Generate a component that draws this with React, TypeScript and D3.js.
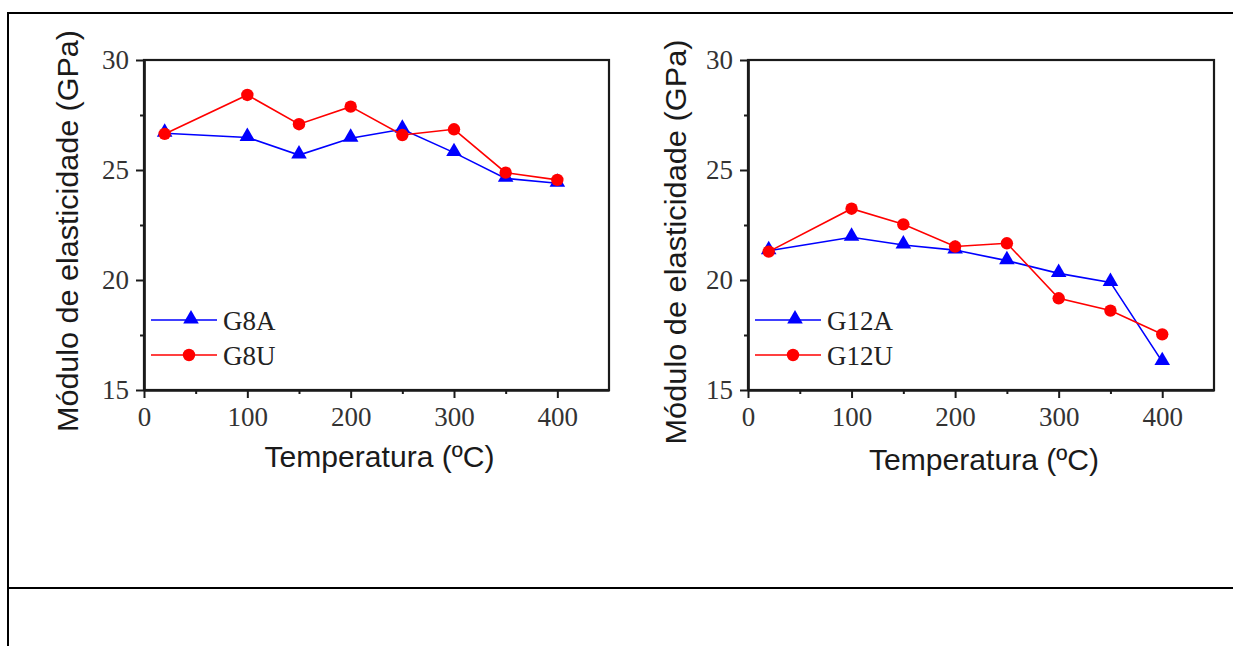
import * as d3 from "d3";
import React, { useRef, useEffect } from "react";

// temperatures (ºC) of the tests
const temperatures = [20, 100, 150, 200, 250, 300, 350, 400];

// módulo de elasticidade (GPa)
const g8a = [26.67, 26.48, 25.68, 26.44, 26.85, 25.79, 24.62, 24.4];
const g8u = [26.64, 28.41, 27.08, 27.88, 26.59, 26.85, 24.88, 24.55];
const g12a = [21.33, 21.94, 21.59, 21.36, 20.88, 20.3, 19.89, 16.29];
const g12u = [21.29, 23.24, 22.53, 21.52, 21.67, 19.17, 18.61, 17.53];

const xTicks = [0, 100, 200, 300, 400];
const xMinorTicks = [50, 150, 250, 350];
const yTicks = [15, 20, 25, 30];
const yMinorTicks = [17.5, 22.5, 27.5];

const xTitle = "Temperatura (ºC)";
const yTitle = "Módulo de elasticidade (GPa)";

const SERIF = "'Liberation Serif', 'Times New Roman', serif";
const SANS = "'Liberation Sans', Arial, sans-serif";

function Panel({ svgRef, left, right, aValues, uValues, aLabel, uLabel, yTitleX, yTitleY, yTitleLen, xTitleY }) {
  useEffect(() => {
    const top = 60, bottom = 390;
    const root = d3.select(svgRef.current).append("g");

    const x = d3.scaleLinear().domain([0, 450]).range([left, right]);
    const y = d3.scaleLinear().domain([15, 30]).range([bottom, top]);

    // frame
    root.append("rect")
      .attr("x", left).attr("y", top)
      .attr("width", right - left).attr("height", bottom - top)
      .attr("fill", "none").attr("stroke", "#1a1a1a").attr("stroke-width", 2.2);

    // x axis
    const gx = root.append("g").attr("transform", "translate(0," + bottom + ")");
    gx.call(d3.axisBottom(x).tickValues(xTicks).tickSize(8).tickSizeOuter(0).tickPadding(9).tickFormat(d3.format("d")));
    gx.append("g").call(d3.axisBottom(x).tickValues(xMinorTicks).tickSize(4).tickSizeOuter(0).tickFormat(() => ""));

    // y axis
    const gy = root.append("g").attr("transform", "translate(" + left + ",0)");
    gy.call(d3.axisLeft(y).tickValues(yTicks).tickSize(8).tickSizeOuter(0).tickPadding(7).tickFormat(d3.format("d")));
    gy.append("g").call(d3.axisLeft(y).tickValues(yMinorTicks).tickSize(4).tickSizeOuter(0).tickFormat(() => ""));

    root.selectAll(".domain").attr("stroke", "#1a1a1a").attr("stroke-width", 2.2);
    root.selectAll(".tick line").attr("stroke", "#1a1a1a").attr("stroke-width", 2);
    root.selectAll(".tick text")
      .attr("fill", "#333")
      .style("font-family", SERIF)
      .style("font-size", "27px");

    const line = d3.line().x((d) => x(d[0])).y((d) => y(d[1]));
    const tri = d3.symbol().type(d3.symbolTriangle).size(105);

    const drawSeries = (vals, color, marker) => {
      const pts = temperatures.map((t, i) => [t, vals[i]]);
      root.append("path").datum(pts)
        .attr("d", line).attr("fill", "none")
        .attr("stroke", color).attr("stroke-width", 1.6);
      if (marker === "tri") {
        root.selectAll(null).data(pts).enter().append("path")
          .attr("d", tri)
          .attr("transform", (d) => "translate(" + x(d[0]) + "," + (y(d[1]) - 1) + ")")
          .attr("fill", color);
      } else {
        root.selectAll(null).data(pts).enter().append("circle")
          .attr("cx", (d) => x(d[0])).attr("cy", (d) => y(d[1]))
          .attr("r", 6.2).attr("fill", color);
      }
    };
    drawSeries(aValues, "#0000ff", "tri");
    drawSeries(uValues, "#ff0000", "circle");

    // legend
    const lx = left + 7;
    const items = [
      { label: aLabel, color: "#0000ff", marker: "tri", yy: 320 },
      { label: uLabel, color: "#ff0000", marker: "circle", yy: 355 },
    ];
    items.forEach((it) => {
      const g = root.append("g");
      g.append("line").attr("x1", lx).attr("x2", lx + 66)
        .attr("y1", it.yy).attr("y2", it.yy)
        .attr("stroke", it.color).attr("stroke-width", 1.6);
      if (it.marker === "tri") {
        g.append("path").attr("d", tri)
          .attr("transform", "translate(" + (lx + 40) + "," + (it.yy - 1) + ")")
          .attr("fill", it.color);
      } else {
        g.append("circle").attr("cx", lx + 38).attr("cy", it.yy).attr("r", 6.2).attr("fill", it.color);
      }
      g.append("text").attr("x", lx + 72).attr("y", it.yy + 10)
        .attr("fill", "#222")
        .style("font-family", SERIF).style("font-size", "27px")
        .text(it.label);
    });

    // axis titles
    root.append("text")
      .attr("x", (left + right) / 2 + 3).attr("y", xTitleY)
      .attr("text-anchor", "middle")
      .attr("textLength", 230).attr("lengthAdjust", "spacingAndGlyphs")
      .attr("fill", "#1a1a1a")
      .style("font-family", SANS).style("font-size", "30px")
      .text(xTitle);
    root.append("text")
      .attr("transform", "translate(" + yTitleX + "," + yTitleY + ") rotate(-90)")
      .attr("text-anchor", "middle")
      .attr("textLength", yTitleLen).attr("lengthAdjust", "spacingAndGlyphs")
      .attr("fill", "#1a1a1a")
      .style("font-family", SANS).style("font-size", "30px")
      .text(yTitle);

    return () => { root.remove(); };
  }, []);

  return null;
}

export default function App() {
  const ref = useRef(null);
  return (
    <div style={{ position: "absolute", left: 0, top: 0, background: "#fff" }}>
      <svg ref={ref} width={1233} height={646} style={{ display: "block" }}>
        <rect x={0} y={0} width={1233} height={646} fill="#fff" />
        {/* table borders */}
        <line x1={7} x2={1233} y1={13} y2={13} stroke="#000" strokeWidth={2} />
        <line x1={8} x2={8} y1={12} y2={646} stroke="#000" strokeWidth={2} />
        <line x1={8} x2={1233} y1={588} y2={588} stroke="#000" strokeWidth={2} />
      </svg>
      <Panel svgRef={ref} left={144} right={609} aValues={g8a} uValues={g8u}
        aLabel="G8A" uLabel="G8U" yTitleX={78} yTitleY={231} yTitleLen={402} xTitleY={467} />
      <Panel svgRef={ref} left={748} right={1214} aValues={g12a} uValues={g12u}
        aLabel="G12A" uLabel="G12U" yTitleX={686} yTitleY={242} yTitleLen={405} xTitleY={470} />
    </div>
  );
}
